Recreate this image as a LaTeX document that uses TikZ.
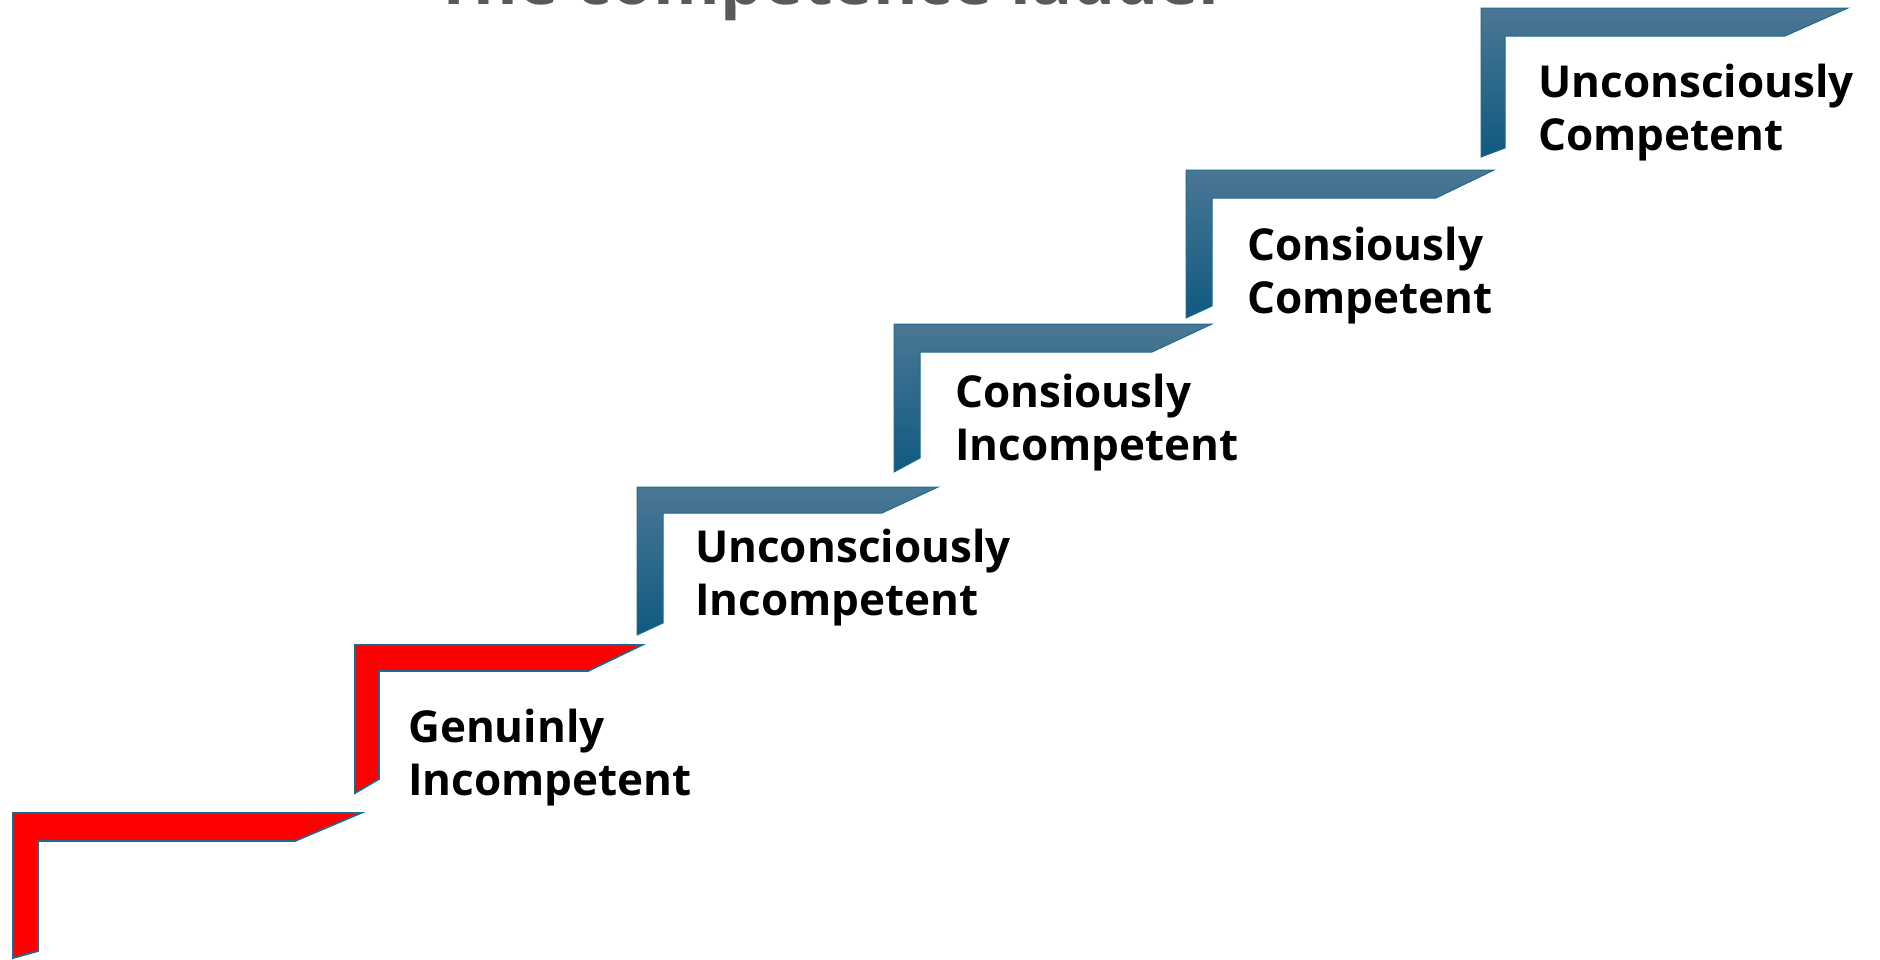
\documentclass[tikz,border=0pt]{standalone}
\usepackage{fontspec}
\setmainfont{Open Sans}
\usepackage{tikz}

\definecolor{stepline}{HTML}{1F6A8C}
\definecolor{steptop}{HTML}{4B7795}
\definecolor{stepbot}{HTML}{0F5A80}
\definecolor{titlegray}{HTML}{595959}

\begin{document}
\begin{tikzpicture}[x=1pt,y=-1pt,
    redstep/.style={draw=stepline,line width=1.8pt,fill=red},
    bluestep/.style={draw=stepline,line width=1pt,top color=steptop,bottom color=stepbot},
    stage/.style={anchor=base west,align=left,inner sep=0pt,font=\fontsize{44}{53}\selectfont\bfseries}]

    \useasboundingbox (0,0) rectangle (1880,959);
    \clip (0,0) rectangle (1880,959);

    \node[anchor=base,inner sep=0pt,text=titlegray,font=\fontsize{68}{80}\selectfont\bfseries] (title) at (832,4) {The competence ladder};

    % steps, bottom to top
    \draw[redstep]  (13,813) -- (361,813) -- (295,841) -- (38,841) -- (38,951) -- (13,958) -- cycle;
    \draw[redstep]  (355,645) -- (642,645) -- (588,671) -- (379,671) -- (379,779) -- (355,793) -- cycle;
    \draw[bluestep] (637,487) -- (938,487) -- (882,513) -- (663,513) -- (663,623) -- (637,635) -- cycle;
    \draw[bluestep] (894,324) -- (1212,324) -- (1152,352) -- (920,352) -- (920,458) -- (894,472) -- cycle;
    \draw[bluestep] (1186,170) -- (1494,170) -- (1436,198) -- (1212,198) -- (1212,306) -- (1186,318) -- cycle;
    \draw[bluestep] (1481,8) -- (1848,8) -- (1785,36) -- (1505,36) -- (1505,148) -- (1481,157) -- cycle;

    % labels, anchored at the baseline of the second line
    \node[stage] (gi) at (408,795)  {Genuinly\\Incompetent};
    \node[stage] (ui) at (695,615)  {Unconsciously\\Incompetent};
    \node[stage] (ci) at (955,460)  {Consiously\\Incompetent};
    \node[stage] (cc) at (1247,313) {Consiously\\Competent};
    \node[stage] (uc) at (1538,150) {Unconsciously\\Competent};
\end{tikzpicture}
\end{document}
